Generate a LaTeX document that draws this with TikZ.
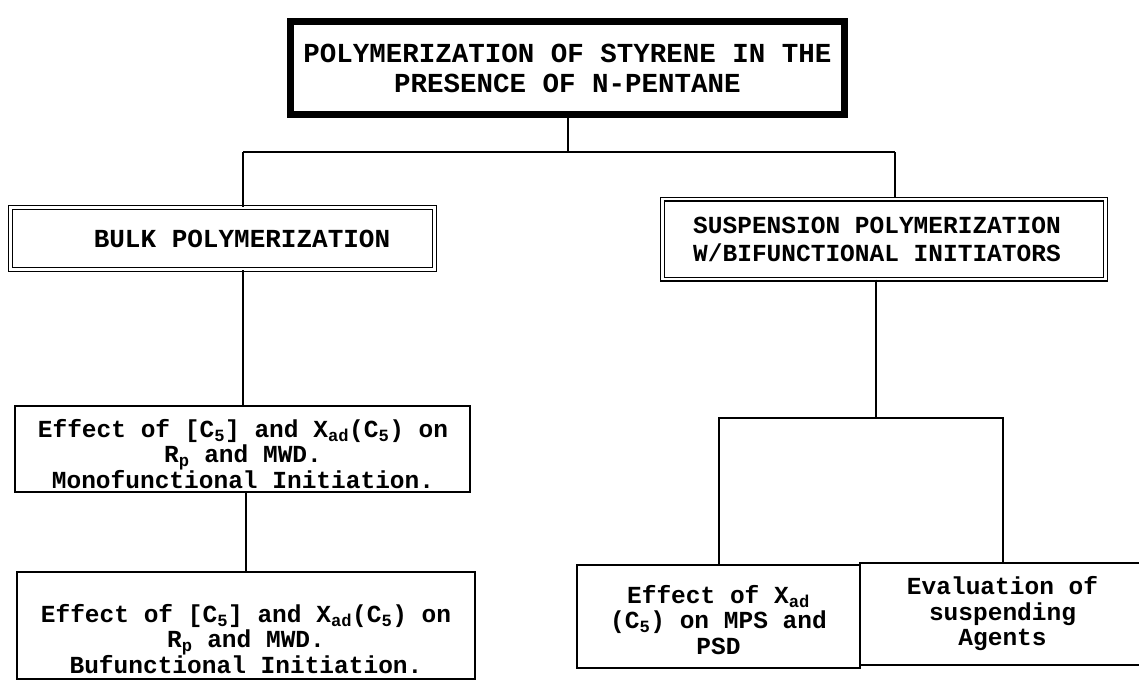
\documentclass[tikz,border=0pt]{standalone}
\usepackage{fontspec}
\setmainfont{Liberation Mono}
\begin{document}
\begin{tikzpicture}[
    x=1pt, y=-1pt,
    font=\bfseries\fontsize{24.5}{25.5}\selectfont,
    line width=2pt,
    box/.style={draw, align=center, inner sep=0pt},
    dbox/.style={box, double, double distance=2.6pt, line width=1.2pt},
    tbox/.style={box, line width=7pt},
    txt/.style={align=center, inner sep=0pt},
  ]
  \useasboundingbox (0,0) rectangle (1139,683);
  % top of the tree
  \node[tbox, minimum width=554, minimum height=93, font=\bfseries\fontsize{27.5}{30}\selectfont] (title) at (567.5,68) {POLYMERIZATION OF STYRENE IN THE\\PRESENCE OF N-PENTANE};
  \node[dbox, minimum width=424, minimum height=62] (bulk) at (222.5,238.5) {};
  \node[txt, font=\bfseries\fontsize{26}{28}\selectfont] (bulkt) at (242,238.5) {BULK POLYMERIZATION};
  \node[dbox, minimum width=443, minimum height=80] (susp) at (884,239) {};
  \node[txt, font=\bfseries\fontsize{24.5}{28}\selectfont] (suspt) at (877,239) {SUSPENSION POLYMERIZATION\\W/BIFUNCTIONAL INITIATORS};
  % bulk branch
  \node[box, minimum width=455, minimum height=86] (eff1) at (242.5,449) {};
  \node[txt] (eff1t) at (243,454) {Effect of [C\textsubscript{5}] and X\textsubscript{ad}(C\textsubscript{5}) on\\R\textsubscript{p} and MWD.\\Monofunctional Initiation.};
  \node[box, minimum width=458, minimum height=107] (eff2) at (246,625.5) {};
  \node[txt] (eff2t) at (246,639) {Effect of [C\textsubscript{5}] and X\textsubscript{ad}(C\textsubscript{5}) on\\R\textsubscript{p} and MWD.\\Bufunctional Initiation.};
  % suspension branch
  \node[box, minimum width=283, minimum height=103] (mps) at (718.5,616.5) {};
  \node[txt] (mpst) at (718.5,620) {Effect of X\textsubscript{ad}\\(C\textsubscript{5}) on MPS and\\PSD};
  \node[box, minimum width=285, minimum height=102] (agent) at (1002.5,614) {Evaluation of\\suspending\\Agents};
  % connectors
  \coordinate (hl) at (243,152);
  \coordinate (hr) at (895,152);
  \coordinate (fork) at (876,418);
  \draw (title.south) -- (title.south |- hl);
  \draw (hl) -- (hr);
  \draw (hl) -- (hl |- bulk.north);
  \draw (hr) -- (hr |- susp.north);
  \draw (bulk.south -| eff1.north) -- (eff1.north);
  \draw (eff1.south -| eff2.north) -- (eff2.north);
  \draw (susp.south -| fork) -- (fork);
  \draw (mps.north) |- (fork) -| (agent.north);
\end{tikzpicture}
\end{document}
